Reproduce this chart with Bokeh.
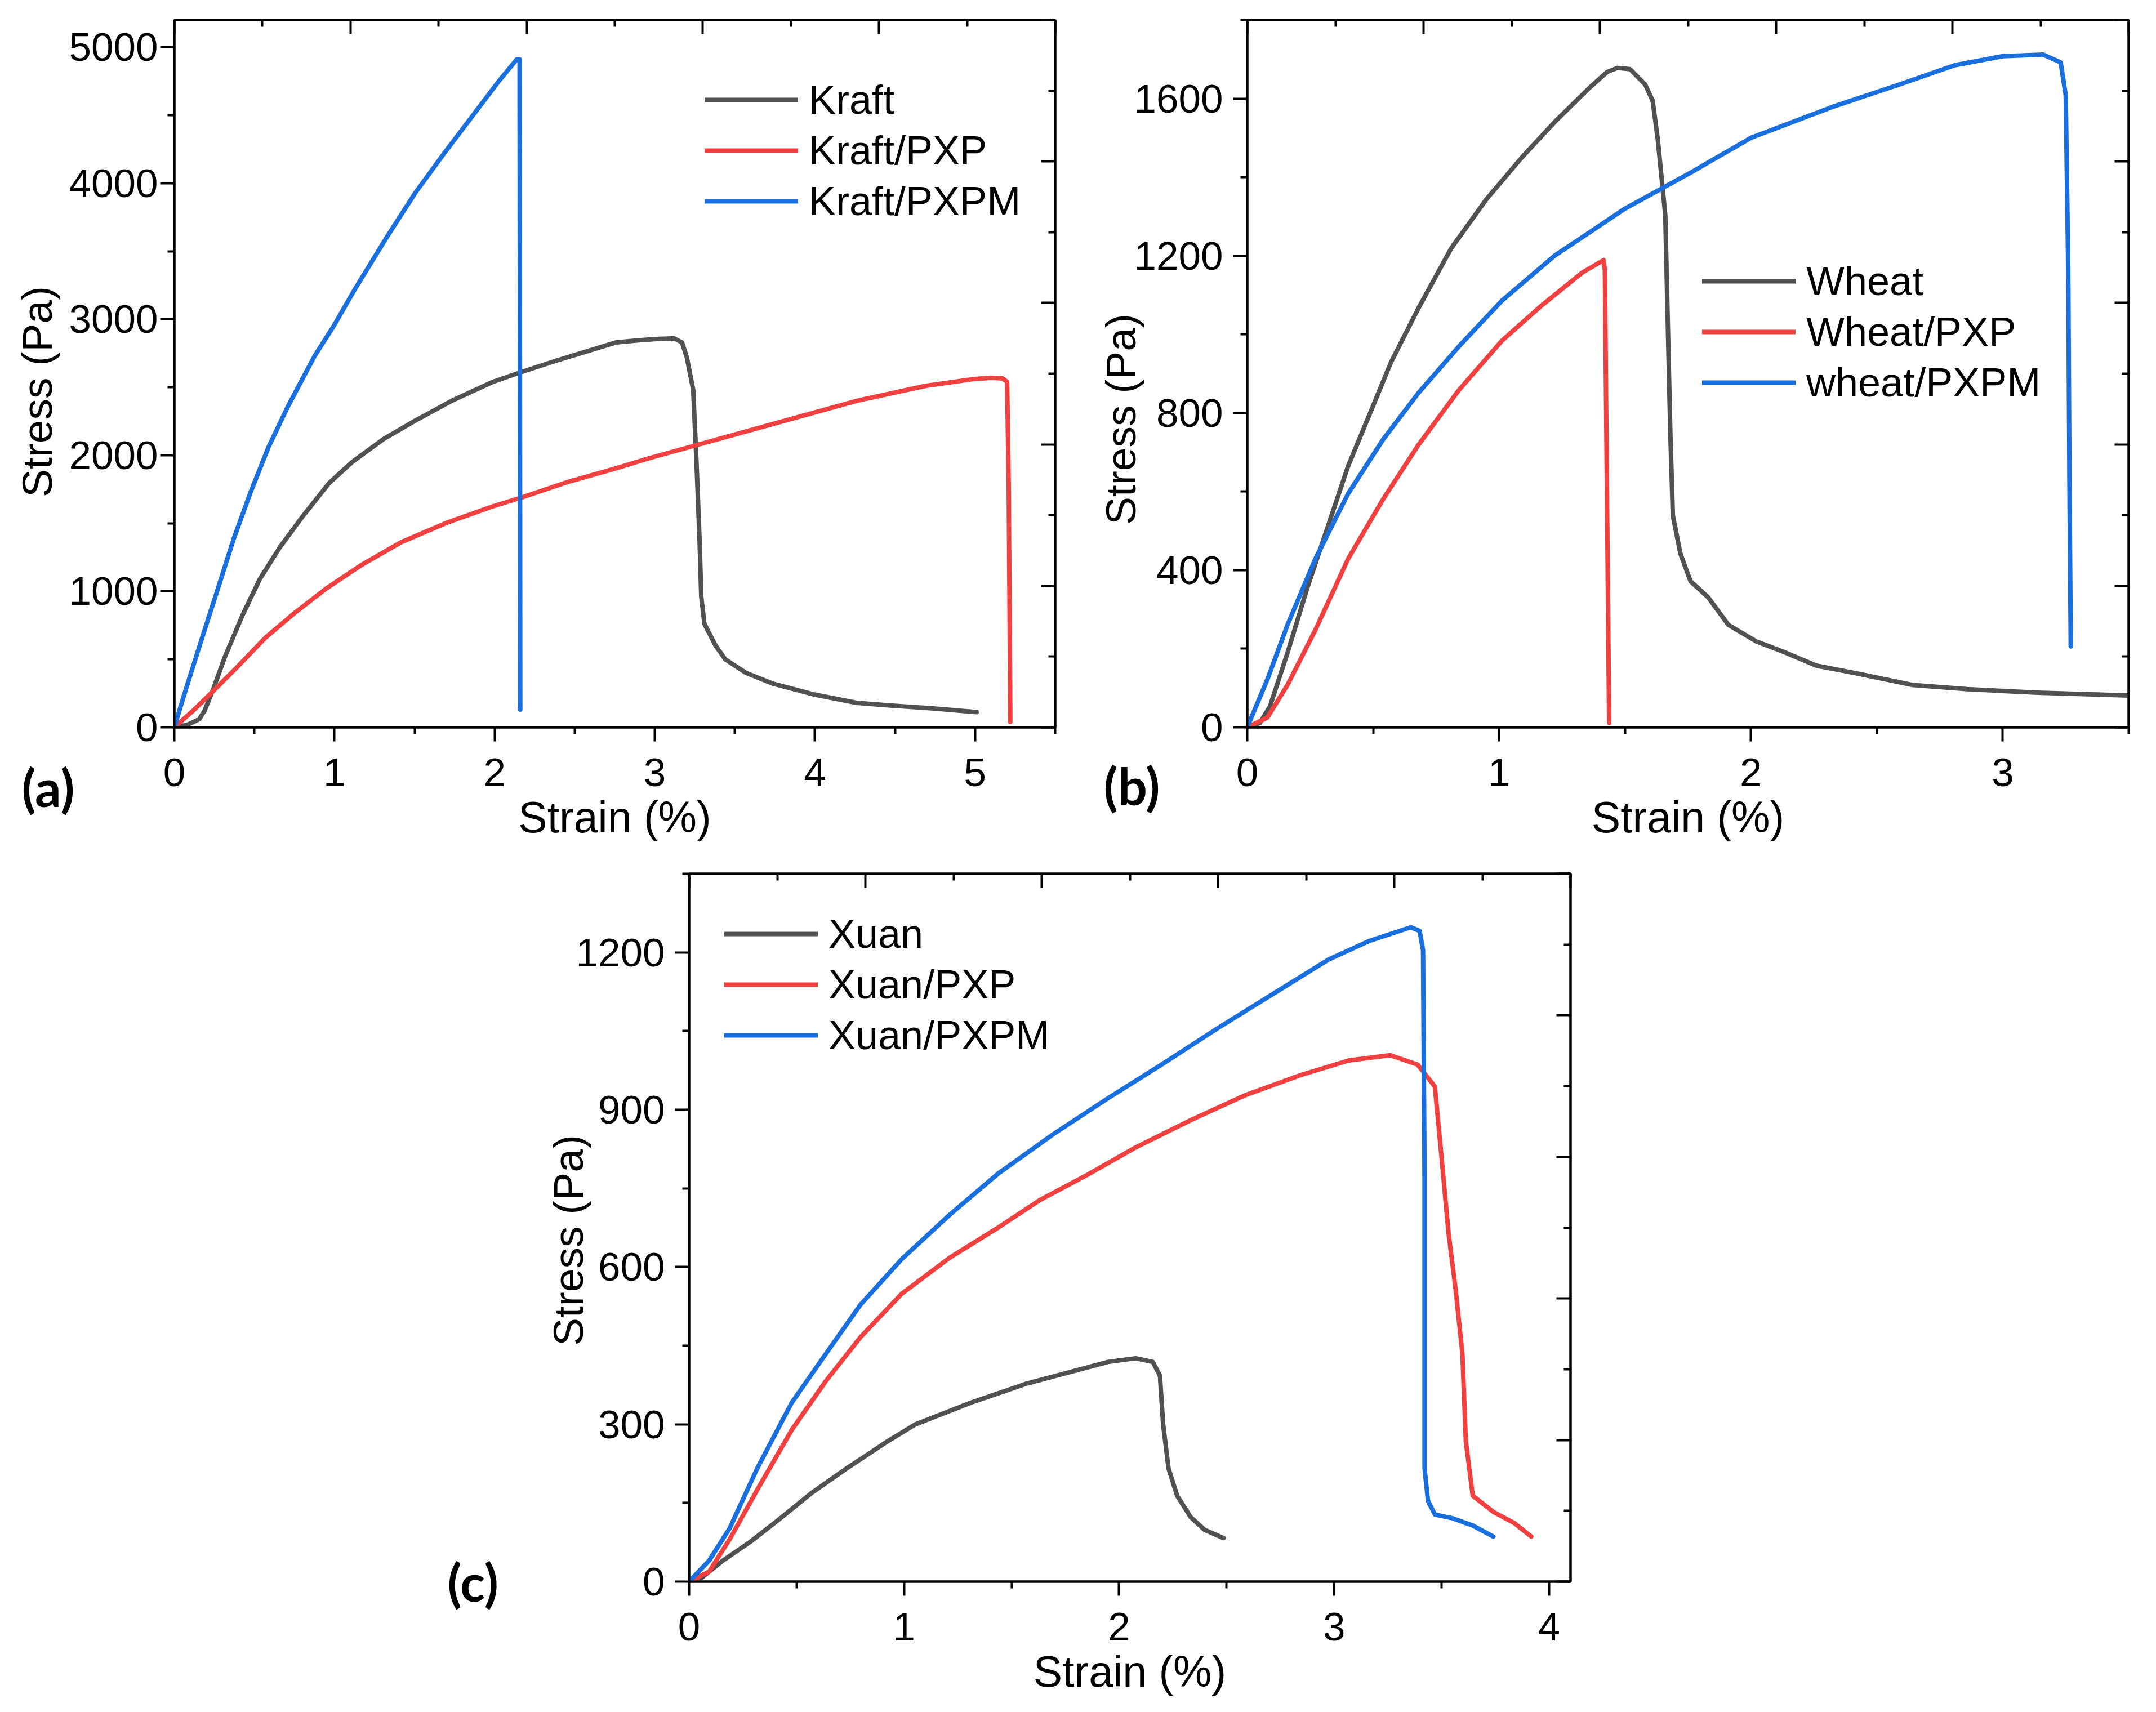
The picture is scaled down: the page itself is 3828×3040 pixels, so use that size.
import math
from bokeh.plotting import figure
from bokeh.models import (Range1d, LinearAxis, FixedTicker, CustomJSTickFormatter,
                          Legend, LegendItem, Spacer)
from bokeh.core.properties import value
from bokeh.layouts import column, row
from bokeh.embed import file_html
from bokeh.resources import INLINE

GRAY = "#515151"
RED = "#F14040"
BLUE = "#1A6FDF"

# ---------------- Panel (a): Kraft ----------------
kraft_x = [0, 0.085, 0.156, 0.19, 0.246, 0.318, 0.426, 0.534, 0.66, 0.804, 0.966, 1.11, 1.307,
           1.505, 1.74, 1.99, 2.15, 2.37, 2.55, 2.76, 2.9, 3.01, 3.12, 3.17, 3.2, 3.24, 3.26,
           3.28, 3.29, 3.31, 3.38, 3.44, 3.57, 3.74, 4.0, 4.26, 4.47, 4.73, 5.01]
kraft_y = [0, 20, 60, 125, 290, 525, 825, 1090, 1325, 1555, 1795, 1950, 2120,
           2255, 2405, 2540, 2605, 2690, 2755, 2830, 2845, 2855, 2860, 2830, 2720, 2480, 1960,
           1360, 960, 760, 600, 500, 400, 320, 240, 180, 160, 140, 112]
kraft_pxp_x = [0, 0.12, 0.237, 0.39, 0.57, 0.75, 0.948, 1.164, 1.415, 1.703, 1.99, 2.17, 2.46,
               2.76, 2.97, 3.4, 3.83, 4.26, 4.69, 4.99, 5.1, 5.17, 5.2, 5.21, 5.22]
kraft_pxp_y = [0, 125, 260, 440, 660, 840, 1020, 1190, 1360, 1505, 1625, 1690, 1805,
               1905, 1980, 2120, 2260, 2400, 2510, 2560, 2570, 2565, 2540, 1760, 40]
kraft_pxpm_x = [0, 0.067, 0.174, 0.264, 0.372, 0.48, 0.588, 0.714, 0.876, 1.0, 1.127, 1.325,
                1.505, 1.685, 1.865, 2.026, 2.138, 2.156, 2.158, 2.16]
kraft_pxpm_y = [0, 260, 660, 990, 1390, 1740, 2060, 2370, 2730, 2960, 3220, 3600,
                3930, 4220, 4500, 4750, 4910, 4910, 2500, 130]

# ---------------- Panel (b): Wheat ----------------
wheat_x = [0, 0.05, 0.09, 0.16, 0.24, 0.32, 0.40, 0.49, 0.57, 0.68, 0.81, 0.95, 1.09, 1.22,
           1.36, 1.43, 1.47, 1.52, 1.58, 1.61, 1.63, 1.66, 1.67, 1.68, 1.69, 1.72, 1.76, 1.83,
           1.91, 2.02, 2.13, 2.26, 2.43, 2.64, 2.86, 3.14, 3.5]
wheat_y = [0, 11, 53, 190, 358, 511, 664, 803, 928, 1067, 1219, 1344, 1450, 1540,
           1628, 1668, 1678, 1675, 1636, 1594, 1497, 1303, 1025, 747, 539, 442, 372, 331,
           261, 219, 192, 157, 136, 108, 97, 88, 81]
wheat_pxp_x = [0, 0.08, 0.16, 0.27, 0.40, 0.54, 0.68, 0.84, 1.01, 1.17, 1.33, 1.415, 1.42, 1.437]
wheat_pxp_y = [0, 25, 108, 247, 428, 581, 719, 858, 983, 1074, 1157, 1189, 1164, 11]
wheat_pxpm_x = [0, 0.08, 0.16, 0.27, 0.40, 0.54, 0.68, 0.84, 1.01, 1.22, 1.50, 1.77, 2.0,
                2.32, 2.59, 2.81, 3.0, 3.16, 3.23, 3.25, 3.26, 3.265, 3.27]
wheat_pxpm_y = [0, 122, 261, 428, 594, 733, 851, 969, 1085, 1200, 1320, 1415, 1500,
                1578, 1636, 1685, 1708, 1712, 1692, 1608, 1164, 608, 206]

# ---------------- Panel (c): Xuan ----------------
xuan_x = [0, 0.06, 0.157, 0.285, 0.413, 0.573, 0.733, 0.925, 1.053, 1.309, 1.565, 1.757,
          1.949, 2.077, 2.157, 2.19, 2.205, 2.23, 2.27, 2.333, 2.397, 2.486]
xuan_y = [0, 8, 40, 76, 117, 170, 216, 268, 300, 341, 377, 398,
          419, 426, 419, 393, 300, 216, 164, 123, 99, 83]
xuan_pxp_x = [0, 0.093, 0.189, 0.317, 0.477, 0.637, 0.797, 0.989, 1.213, 1.437, 1.629, 1.853,
              2.077, 2.333, 2.589, 2.845, 3.069, 3.261, 3.389, 3.469, 3.5, 3.533, 3.565,
              3.597, 3.613, 3.645, 3.741, 3.837, 3.917]
xuan_pxp_y = [0, 19, 81, 175, 289, 383, 466, 549, 618, 675, 727, 776,
              828, 880, 928, 966, 994, 1004, 986, 944, 809, 663, 559,
              435, 268, 164, 133, 112, 86]
xuan_pxpm_x = [0, 0.093, 0.189, 0.317, 0.477, 0.637, 0.797, 0.989, 1.213, 1.437, 1.693,
               1.949, 2.205, 2.461, 2.717, 2.973, 3.165, 3.357, 3.398, 3.414, 3.421, 3.421,
               3.437, 3.469, 3.549, 3.645, 3.741]
xuan_pxpm_y = [0, 40, 102, 216, 341, 435, 528, 615, 700, 778, 853,
               922, 988, 1056, 1121, 1186, 1222, 1248, 1241, 1204, 767, 216,
               154, 128, 121, 107, 86]

# axis ticks
a_xticks = [0, 1, 2, 3, 4, 5]
a_xminor = [0.5, 1.5, 2.5, 3.5, 4.5, 5.5]
a_yticks = [0, 1000, 2000, 3000, 4000, 5000]
a_yminor = [500, 1500, 2500, 3500, 4500]
b_xticks = [0, 1, 2, 3]
b_xminor = [0.5, 1.5, 2.5, 3.5]
b_yticks = [0, 400, 800, 1200, 1600]
b_yminor = [200, 600, 1000, 1400, 1800]
c_xticks = [0, 1, 2, 3, 4]
c_xminor = [0.5, 1.5, 2.5, 3.5]
c_yticks = [0, 300, 600, 900, 1200]
c_yminor = [150, 450, 750, 1050, 1350]

TICK_FONT = "Liberation Sans"
LW = 8


def style_axis(ax, out=True):
    ax.axis_line_width = 4
    ax.axis_line_color = "black"
    ax.major_tick_line_width = 4
    ax.minor_tick_line_width = 4
    ax.major_tick_line_color = "black"
    ax.minor_tick_line_color = "black"
    if out:
        ax.major_tick_out = 25
        ax.major_tick_in = 0
        ax.minor_tick_out = 12
        ax.minor_tick_in = 0
    else:
        ax.major_tick_out = 0
        ax.major_tick_in = 25
        ax.minor_tick_out = 0
        ax.minor_tick_in = 12
    ax.major_label_text_font = TICK_FONT
    ax.major_label_text_font_size = "71px"
    ax.major_label_text_color = "black"
    ax.axis_label_text_font = TICK_FONT
    ax.axis_label_text_font_style = "normal"
    ax.axis_label_text_color = "black"


def make_panel(xmax, ymax, xt, xm, yt, ym, fw, fh, bl, bt, br, bb, series, names,
               leg_loc, ytick_standoff, ylab_xy, tag, tag_xy, frame_left, frame_bottom):
    p = figure(frame_width=fw, frame_height=fh, x_range=Range1d(0, xmax),
               y_range=Range1d(0, ymax), output_backend="svg", toolbar_location=None,
               min_border_left=bl, min_border_top=bt, min_border_right=br,
               min_border_bottom=bb, background_fill_color="white",
               border_fill_color="white")
    p.grid.visible = False
    p.outline_line_color = "black"
    p.outline_line_width = 4

    p.xaxis.ticker = FixedTicker(ticks=xt, minor_ticks=xm)
    p.yaxis.ticker = FixedTicker(ticks=yt, minor_ticks=ym)
    for ax in p.xaxis:
        style_axis(ax)
        ax.axis_label = "Strain (%)"
        ax.axis_label_text_font_size = "77px"
        ax.axis_label_standoff = 9
        ax.major_label_standoff = 30
    for ax in p.yaxis:
        style_axis(ax)
        ax.major_label_standoff = ytick_standoff

    p.extra_x_ranges = {"top": Range1d(0, 10)}
    p.extra_y_ranges = {"right": Range1d(0, 10)}
    top = LinearAxis(x_range_name="top",
                     ticker=FixedTicker(ticks=[0, 2, 4, 6, 8, 10], minor_ticks=[1, 3, 5, 7, 9]),
                     formatter=CustomJSTickFormatter(code="return ''"))
    style_axis(top, out=False)
    p.add_layout(top, "above")
    right = LinearAxis(y_range_name="right",
                       ticker=FixedTicker(ticks=[0, 2, 4, 6, 8, 10], minor_ticks=[1, 3, 5, 7, 9]),
                       formatter=CustomJSTickFormatter(code="return ''"))
    style_axis(right, out=False)
    p.add_layout(right, "right")

    items = []
    for (xs, ys, col), nm in zip(series, names):
        r = p.line(xs, ys, line_color=col, line_width=LW, line_join="round", line_cap="round")
        items.append(LegendItem(label=nm, renderers=[r]))
    leg = Legend(items=items, location=leg_loc)
    leg.label_text_font = TICK_FONT
    leg.label_text_font_size = "72px"
    leg.label_text_color = "black"
    leg.glyph_width = 166
    leg.glyph_height = 80
    leg.label_height = 80
    leg.spacing = 8
    leg.padding = 0
    leg.margin = 0
    leg.label_standoff = 19
    leg.border_line_color = None
    leg.background_fill_alpha = 0
    p.add_layout(leg)

    def to_data(px, py):
        return (px - frame_left) / fw * xmax, (frame_bottom - py) / fh * ymax

    # y-axis title (rotated), placed slightly below the frame centre as in the original
    lx, ly = to_data(*ylab_xy)
    p.text(x=[lx], y=[ly], text=["Stress (Pa)"], angle=math.pi / 2,
           text_font=value(TICK_FONT), text_font_size="75px", text_align="center",
           text_baseline="middle", text_color="black", level="overlay")

    # panel tag
    tx, ty = to_data(*tag_xy)
    p.text(x=[tx], y=[ty], text=[tag], text_font=value("Lato"), text_font_style="bold",
           text_font_size="92px", text_baseline="middle", text_align="left",
           text_color="black", level="overlay")
    return p


pa = make_panel(5.5, 5200, a_xticks, a_xminor, a_yticks, a_yminor, 1564, 1256, 309, 35, 27, 226,
                [(kraft_x, kraft_y, GRAY), (kraft_pxp_x, kraft_pxp_y, RED),
                 (kraft_pxpm_x, kraft_pxpm_y, BLUE)],
                ["Kraft", "Kraft/PXP", "Kraft/PXPM"],
                (942, 893), 4, (73, 703), "(a)", (46, 1405), 317, 1299)

pb = make_panel(3.5, 1800, b_xticks, b_xminor, b_yticks, b_yminor, 1565, 1256, 314, 35, 33, 226,
                [(wheat_x, wheat_y, GRAY), (wheat_pxp_x, wheat_pxp_y, RED),
                 (wheat_pxpm_x, wheat_pxpm_y, BLUE)],
                ["Wheat", "Wheat/PXP", "wheat/PXPM"],
                (808, 571), 18, (1997, 752), "(b)", (1967, 1402), 2222, 1299)

pc = make_panel(4.1, 1350, c_xticks, c_xminor, c_yticks, c_yminor, 1565, 1257, 523, 34, 30, 214,
                [(xuan_x, xuan_y, GRAY), (xuan_pxp_x, xuan_pxp_y, RED),
                 (xuan_pxpm_x, xuan_pxpm_y, BLUE)],
                ["Xuan", "Xuan/PXP", "Xuan/PXPM"],
                (63, 929), 18, (1016, 2210), "(c)", (802, 2816), 1231, 2816)

layout = column(row(pa, pb), row(Spacer(width=700, height=10), pc))

open("out.html", "w").write(file_html(layout, INLINE))
